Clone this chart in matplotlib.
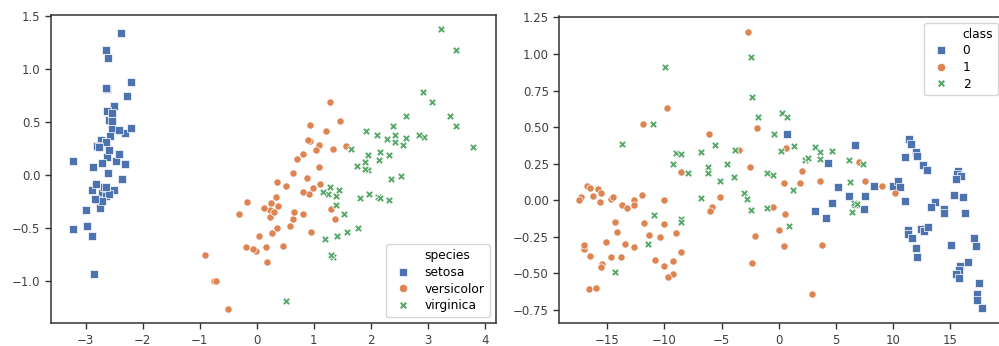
#!/usr/bin/env python3
"""
Two 2-D projections side by side:
left  - iris PCA (PC1 vs PC2) coloured by species
right - 2-D embedding coloured by class
"""

import matplotlib
matplotlib.use("Agg")
import matplotlib.pyplot as plt
from matplotlib.lines import Line2D

# ---------------- left panel: iris PCA ----------------
setosa_pc1 = [-2.684, -2.714, -2.889, -2.745, -2.729, -2.281, -2.821, -2.626, -2.886, -2.672,
              -2.507, -2.613, -2.787, -3.225, -2.644, -2.386, -2.623, -2.648, -2.199, -2.587,
              -2.310, -2.544, -3.216, -2.303, -2.356, -2.508, -2.469, -2.562, -2.640, -2.633,
              -2.588, -2.410, -2.648, -2.598, -2.637, -2.866, -2.625, -2.801, -2.980, -2.590,
              -2.770, -2.850, -2.998, -2.406, -2.209, -2.715, -2.538, -2.840, -2.543, -2.703]
setosa_pc2 = [0.319, -0.177, -0.145, -0.318, 0.327, 0.741, -0.089, 0.163, -0.578, -0.114,
              0.645, 0.015, -0.235, -0.511, 1.179, 1.338, 0.811, 0.312, 0.873, 0.514,
              0.391, 0.433, 0.133, 0.098, -0.037, -0.146, 0.131, 0.368, 0.312, -0.197,
              -0.180, 0.419, 0.819, 1.100, -0.121, 0.069, 0.599, 0.269, -0.488, 0.229,
              0.264, -0.941, -0.334, 0.196, 0.437, -0.250, 0.503, -0.228, 0.579, 0.107]

versicolor_pc1 = [1.285, 0.932, 1.464, 0.181, 1.087, 0.640, 1.095, -0.751, 1.043, -0.010,
                  -0.511, 0.511, 0.262, 0.984, -0.174, 0.928, 0.660, 0.236, 0.944, 0.045,
                  1.116, 0.357, 1.298, 0.921, 0.715, 0.900, 1.332, 1.558, 0.813, -0.306,
                  -0.068, -0.189, 0.136, 1.380, 0.588, 0.807, 1.220, 0.815, 0.246, 0.165,
                  0.463, 0.890, 0.229, -0.708, 0.356, 0.332, 0.376, 0.642, -0.906, 0.299]
versicolor_pc2 = [0.685, 0.318, 0.504, -0.827, 0.075, -0.418, 0.284, -1.005, 0.229, -0.723,
                  -1.265, -0.104, -0.550, -0.125, -0.255, 0.467, -0.353, -0.333, -0.543, -0.584,
                  -0.084, -0.069, -0.328, -0.183, 0.149, 0.329, 0.244, 0.267, -0.163, -0.368,
                  -0.705, -0.680, -0.314, -0.421, -0.484, 0.195, 0.408, -0.371, -0.269, -0.680,
                  -0.670, -0.034, -0.402, -1.008, -0.503, -0.211, -0.292, 0.018, -0.756, -0.349]

virginica_pc1 = [2.531, 1.414, 2.616, 1.971, 2.350, 3.397, 0.521, 2.933, 2.321, 2.917,
                 1.662, 1.803, 2.166, 1.344, 1.585, 1.905, 1.949, 3.487, 3.795, 1.300,
                 2.428, 1.199, 3.500, 1.388, 2.276, 2.614, 1.258, 1.291, 2.123, 2.388,
                 2.841, 3.231, 2.160, 1.443, 1.780, 3.077, 2.145, 1.905, 1.169, 2.108,
                 2.314, 1.922, 1.414, 2.563, 2.419, 1.944, 1.527, 1.764, 1.901, 1.390]
virginica_pc2 = [-0.010, -0.575, 0.343, -0.180, -0.040, 0.551, -1.193, 0.355, -0.244, 0.783,
                 0.242, -0.216, 0.216, -0.776, -0.539, 0.119, 0.041, 1.176, 0.257, -0.762,
                 0.378, -0.606, 0.461, -0.204, 0.333, 0.558, -0.180, -0.117, -0.210, 0.464,
                 0.375, 1.374, -0.217, -0.143, -0.500, 0.688, 0.140, 0.049, -0.165, 0.372,
                 0.183, 0.409, -0.575, 0.278, 0.305, 0.188, -0.375, 0.079, 0.117, -0.283]

species_names = ["setosa", "versicolor", "virginica"]

# ---------------- right panel: classes 0/1/2 ----------------
class0_x = [0.73, 6.67, 4.30, 5.17, 6.15, 7.54, 4.69, 3.21, 4.10, 7.47,
            6.70, 8.33, 9.95, 10.45, 10.58, 11.00, 11.39, 11.59, 11.01, 11.97,
            12.06, 12.65, 12.93, 15.70, 15.55, 15.90, 15.50, 15.34, 16.15, 13.67,
            13.29, 14.47, 14.48, 16.27, 11.33, 11.33, 11.62, 12.40, 12.70, 13.08,
            11.98, 12.10, 15.06, 17.04, 17.25, 16.55, 15.85, 15.76, 15.50, 15.74,
            17.54, 17.34, 17.34, 17.73]
class0_y = [0.455, 0.378, 0.255, 0.092, 0.031, 0.030, -0.016, -0.071, -0.124, -0.062,
            -0.026, 0.099, 0.100, 0.130, 0.088, -0.002, 0.417, 0.385, 0.293, 0.332,
            0.303, 0.244, 0.207, 0.198, 0.179, 0.168, 0.148, 0.037, 0.020, -0.015,
            -0.044, -0.058, -0.088, -0.088, -0.203, -0.233, -0.258, -0.195, -0.212, -0.180,
            -0.327, -0.390, -0.305, -0.260, -0.313, -0.422, -0.447, -0.480, -0.502, -0.528,
            -0.568, -0.638, -0.685, -0.738]

class1_x = [-2.68, -9.79, -11.86, -6.10, -3.44, -8.57, -2.51, -5.13, -5.86, -6.05,
            -10.06, -11.93, -16.78, -16.49, -17.31, -17.44, -16.25, -15.80, -15.52, -15.60,
            -14.69, -14.52, -13.70, -13.23, -12.65, -12.65, -14.31, -11.76, -10.03, -14.10,
            -11.32, -10.42, -8.98, -15.12, -13.45, -12.62, -17.03, -17.00, -8.57, -16.49,
            -14.63, -13.78, -10.82, -9.27, -15.42, -15.53, -10.04, -9.27, -9.64, -16.55,
            -16.01, -1.87, 0.64, 2.05, 0.44, 1.90, 3.62, 6.98, 7.54, 8.99,
            10.17, -0.47, 0.57, 0.03, -2.07, 0.47, 3.75, -2.32, 2.92]
class1_y = [1.153, 0.628, 0.522, 0.453, 0.344, 0.191, 0.224, 0.022, -0.046, -0.073,
            0.005, 0.036, 0.100, 0.082, 0.020, 0.002, 0.030, 0.080, 0.048, -0.009,
            0.011, 0.025, -0.031, -0.050, 0.000, -0.033, -0.146, -0.157, -0.164, -0.220,
            -0.240, -0.250, -0.225, -0.286, -0.302, -0.318, -0.330, -0.308, -0.351, -0.383,
            -0.385, -0.385, -0.409, -0.415, -0.435, -0.458, -0.447, -0.502, -0.522, -0.607,
            -0.597, 0.497, 0.360, 0.200, 0.116, 0.118, 0.131, 0.262, 0.132, 0.096,
            0.051, -0.043, -0.096, -0.200, -0.242, -0.313, -0.309, -0.430, -0.639]

class2_x = [-9.90, -10.99, -13.73, -8.95, -8.56, -6.82, -5.57, -3.85, -9.25, -7.89,
            -6.20, -6.20, -4.49, -5.13, -3.87, -6.80, -3.05, -2.75, -10.87, -8.57,
            -8.57, -11.43, -14.35, -2.42, -2.32, -1.80, 0.32, 0.72, -0.45, 0.23,
            1.35, 3.16, 3.60, 3.60, 4.62, 2.30, 2.55, 6.13, 7.38, -1.05,
            -0.47, 6.27, 1.28, -2.40, -1.05, 0.86, 6.55, 6.84, 6.45]
class2_y = [0.909, 0.522, 0.383, 0.323, 0.318, 0.328, 0.380, 0.344, 0.245, 0.184,
            0.228, 0.186, 0.249, 0.134, 0.157, 0.014, 0.048, 0.008, -0.100, -0.130,
            -0.152, -0.297, -0.492, 0.980, 0.706, 0.571, 0.594, 0.570, 0.452, 0.340,
            0.370, 0.365, 0.327, 0.282, 0.334, 0.277, 0.287, 0.272, 0.247, 0.183,
            0.174, 0.122, 0.067, -0.068, -0.054, -0.174, -0.022, -0.026, -0.078]

class_names = ["0", "1", "2"]

# seaborn "deep" colours and the marker order used in the picture
COLORS = ["#4C72B0", "#DD8452", "#55A868"]
MARKERS = ["s", "o", "X"]

plt.rcParams.update({
    "font.family": "DejaVu Sans",
    "axes.edgecolor": "#333333",
    "axes.linewidth": 1.1,
    "xtick.color": "#333333",
    "ytick.color": "#333333",
    "xtick.labelcolor": "#404040",
    "ytick.labelcolor": "#404040",
    "xtick.major.size": 4,
    "ytick.major.size": 4,
    "xtick.major.width": 1.0,
    "ytick.major.width": 1.0,
    "xtick.labelsize": 8.5,
    "ytick.labelsize": 8.5,
})


def draw_groups(ax, groups, names, title, loc):
    handles = [Line2D([], [], linestyle="", marker="")]
    labels = [title]
    for (xs, ys), name, color, marker in zip(groups, names, COLORS, MARKERS):
        size = 27 if marker != "X" else 30
        ax.scatter(xs, ys, s=size, c=color, marker=marker,
                   edgecolors="white", linewidths=0.5, zorder=3)
        handles.append(Line2D([], [], linestyle="", marker=marker, color=color,
                              markersize=6, markeredgecolor="white", markeredgewidth=0.5))
        labels.append(name)
    ax.legend(handles, labels, loc=loc, fontsize=8.8, frameon=True,
              labelspacing=0.3, handletextpad=0.8, borderpad=0.4)


fig = plt.figure(figsize=(9.99, 3.46), dpi=100)
ax1 = fig.add_axes([50.7 / 999, 1 - 323.3 / 346, 445 / 999, (323.3 - 15.2) / 346])
ax2 = fig.add_axes([559.3 / 999, 1 - 323.3 / 346, 445 / 999, (323.3 - 16.5) / 346])

draw_groups(ax1,
            [(setosa_pc1, setosa_pc2), (versicolor_pc1, versicolor_pc2),
             (virginica_pc1, virginica_pc2)],
            species_names, "species", "lower right")
ax1.set_xlim(-3.61, 4.19)
ax1.set_ylim(-1.404, 1.506)
ax1.set_xticks([-3, -2, -1, 0, 1, 2, 3, 4])
ax1.set_yticks([-1.0, -0.5, 0.0, 0.5, 1.0, 1.5])

draw_groups(ax2,
            [(class0_x, class0_y), (class1_x, class1_y), (class2_x, class2_y)],
            class_names, "class", "upper right")
ax2.set_xlim(-19.18, 19.72)
ax2.set_ylim(-0.841, 1.256)
ax2.set_xticks([-15, -10, -5, 0, 5, 10, 15])
ax2.set_yticks([-0.75, -0.5, -0.25, 0.0, 0.25, 0.5, 0.75, 1.0, 1.25])

fig.savefig("out.png", dpi=100)
